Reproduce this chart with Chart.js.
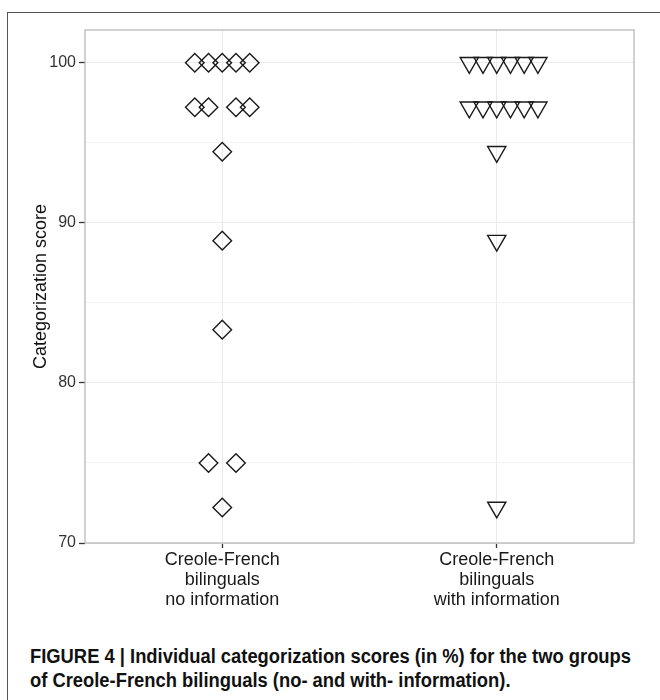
<!DOCTYPE html>
<html>
<head>
<meta charset="utf-8">
<script src="https://cdn.jsdelivr.net/npm/chart.js@4"></script>
<style>
  body { margin: 0; background: #fff; width: 660px; height: 700px; overflow: hidden; position: relative; font-family: 'Liberation Sans', Arial, sans-serif; }
  #frame { position: absolute; left: 7px; top: 12px; width: 700px; height: 720px; border-left: 1.5px solid #555; border-top: 1.5px solid #555; }
  #chart { position: absolute; left: 0; top: 0; }
  .cap { position: absolute; left: 30px; white-space: nowrap; line-height: 20px; font: bold 20px 'Liberation Sans Narrow', 'Liberation Sans', Arial, sans-serif; color: #111; transform-origin: 0 0; }
</style>
</head>
<body>
<div id="frame"></div>
<canvas id="chart" width="660" height="620"></canvas>
<div class="cap" id="cap1" style="top:645px">FIGURE 4 | Individual categorization scores (in %) for the two groups</div>
<div class="cap" id="cap2" style="top:669px">of Creole-French bilinguals (no- and with- information).</div>
<script>
// groups on the x axis
const categories = [
    ['Creole-French', 'bilinguals', 'no information'],
    ['Creole-French', 'bilinguals', 'with information']
];
const categoryPos = [1, 2];

// scores (%), one entry per participant
const noInfoScores = [100, 100, 100, 100, 100, 97.22, 97.22, 97.22, 97.22, 94.44, 88.89, 83.33, 75, 75, 72.22];
const noInfoSlot = [-2, -1, 0, 1, 2, -2, -1, 1, 2, 0, 0, 0, -1, 1, 0];
const withInfoScores = [100, 100, 100, 100, 100, 100, 97.22, 97.22, 97.22, 97.22, 97.22, 97.22, 94.44, 88.89, 72.22];
const withInfoSlot = [-2, -1, 0, 1, 2, 3, -2, -1, 0, 1, 2, 3, 0, 0, 0];

const yTicks = [70, 80, 90, 100];

// dot stacking step, in category units
const dotStep = 0.05;
const toPoints = (scores, slots, cat) => scores.map((s, i) => ({ x: cat + slots[i] * dotStep, y: s }));

// grey panel border like ggplot theme_bw
const panelBorder = {
    id: 'panelBorder',
    beforeDatasetsDraw(chart) {
        const { ctx, chartArea: a } = chart;
        ctx.save();
        ctx.strokeStyle = '#b3b3b3';
        ctx.lineWidth = 1.2;
        ctx.strokeRect(a.left, a.top, a.right - a.left, a.bottom - a.top);
        ctx.restore();
    }
};

const font = "'Liberation Sans', Arial, sans-serif";

new Chart(document.getElementById('chart'), {
    type: 'scatter',
    data: {
        datasets: [{
            data: toPoints(noInfoScores, noInfoSlot, categoryPos[0]),
            pointStyle: 'rectRot',
            pointRadius: 9.3,
            borderColor: '#1a1a1a',
            backgroundColor: 'rgba(0,0,0,0)',
            borderWidth: 1.4
        }, {
            data: toPoints(withInfoScores, withInfoSlot, categoryPos[1]),
            pointStyle: 'triangle',
            rotation: 180,
            pointRadius: 10.5,
            borderColor: '#1a1a1a',
            backgroundColor: 'rgba(0,0,0,0)',
            borderWidth: 1.4
        }]
    },
    options: {
        responsive: false,
        animation: false,
        layout: { padding: { top: 30, right: 26, left: 0, bottom: 0 } },
        plugins: { legend: { display: false }, tooltip: { enabled: false } },
        scales: {
            x: {
                type: 'linear',
                min: 0.5,
                max: 2.5,
                afterBuildTicks: s => { s.ticks = categoryPos.map(v => ({ value: v })); },
                afterFit: s => { s.height = 77; },
                border: { display: false },
                grid: { color: '#ebebeb', lineWidth: 1, tickLength: 5, tickColor: '#333', tickWidth: 1.3 },
                ticks: {
                    callback: v => categories[categoryPos.indexOf(v)],
                    font: { family: font, size: 18, lineHeight: 1.11 },
                    color: '#1a1a1a',
                    padding: 2,
                    maxRotation: 0,
                    autoSkip: false
                }
            },
            y: {
                min: 70,
                max: 102.05,
                afterBuildTicks: s => { s.ticks = s.ticks.filter(t => t.value <= 100); },
                afterFit: s => { s.width = 85; },
                border: { display: false },
                grid: {
                    color: c => yTicks.includes(c.tick.value) ? '#ebebeb' : '#f4f4f4',
                    lineWidth: 1,
                    tickLength: 6,
                    tickColor: c => yTicks.includes(c.tick.value) ? '#333' : 'rgba(0,0,0,0)',
                    tickWidth: 1.3
                },
                ticks: {
                    stepSize: 5,
                    callback: v => yTicks.includes(v) ? v : '',
                    font: { family: font, size: 16 },
                    color: '#333',
                    padding: 3
                },
                title: {
                    display: true,
                    text: 'Categorization score',
                    font: { family: font, size: 18 },
                    color: '#111',
                    padding: { top: 30, bottom: 0 }
                }
            }
        }
    },
    plugins: [panelBorder]
});

// squeeze the caption to the narrow bold look of the figure
const cap1 = document.getElementById('cap1');
const cap2 = document.getElementById('cap2');
const k = 601 / cap1.getBoundingClientRect().width;
cap1.style.transform = 'scaleX(' + k + ')';
cap2.style.transform = 'scaleX(' + k + ')';
</script>
</body>
</html>
